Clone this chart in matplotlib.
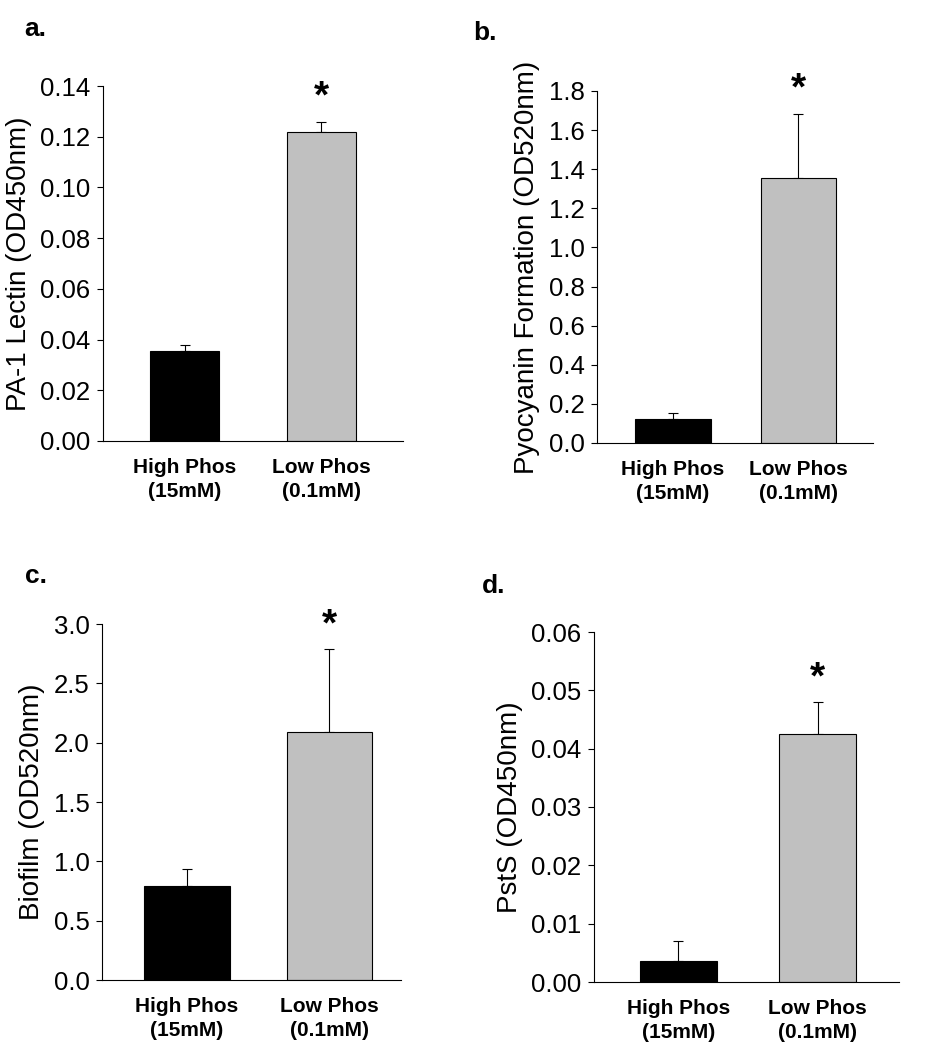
import matplotlib
matplotlib.use("Agg")
import matplotlib.pyplot as plt
from matplotlib.ticker import FormatStrFormatter

plt.rcParams['font.family'] = ['Liberation Sans', 'DejaVu Sans']

groups = ["High Phos\n(15mM)", "Low Phos\n(0.1mM)"]
bar_colors = ["#000000", "#c0c0c0"]

lectin_mean = [0.0355, 0.1217]
lectin_err = [0.0022, 0.0043]

pyo_mean = [0.122, 1.357]
pyo_err = [0.031, 0.327]

biofilm_mean = [0.79, 2.09]
biofilm_err = [0.148, 0.70]

psts_mean = [0.0036, 0.0426]
psts_err = [0.0035, 0.0054]

W, H = 925, 1046
fig = plt.figure(figsize=(W / 100, H / 100), dpi=100)


def panel(box, means, errs, ylim, step, fmt, ylabel, xlim, width, letter, letter_xy):
    l, r, t, b = box
    ax = fig.add_axes([l / W, 1 - b / H, (r - l) / W, (b - t) / H])
    x = [0, 1]
    ax.bar(x, means, width=width, color=bar_colors, edgecolor="black",
           linewidth=0.8, zorder=2)
    # error bars only go up
    ax.errorbar(x, means, yerr=[[0, 0], errs], fmt="none", ecolor="black",
                elinewidth=0.8, capsize=3.5, capthick=0.8, zorder=1)
    ax.annotate("*", xy=(1, means[1] + errs[1]), xytext=(0, 10),
                textcoords="offset points", ha="center", va="baseline",
                fontsize=28, fontweight="bold")
    ax.set_xlim(*xlim)
    ax.set_ylim(*ylim)
    n = int(round((ylim[1] - ylim[0]) / step))
    ax.set_yticks([ylim[0] + i * step for i in range(n + 1)])
    ax.yaxis.set_major_formatter(FormatStrFormatter(fmt))
    ax.set_xticks(x)
    ax.set_xticklabels(groups, fontsize=15, fontweight="bold", linespacing=1.35)
    ax.tick_params(axis="x", length=0, pad=12)
    ax.tick_params(axis="y", length=4, width=0.8, direction="out",
                   labelsize=18.5, pad=5)
    ax.spines["top"].set_visible(False)
    ax.spines["right"].set_visible(False)
    ax.spines["left"].set_linewidth(0.8)
    ax.spines["bottom"].set_linewidth(0.8)
    ax.set_ylabel(ylabel, fontsize=20, labelpad=6)
    fig.text(letter_xy[0] / W, 1 - letter_xy[1] / H, letter, fontsize=19,
             fontweight="bold", ha="left", va="baseline")
    return ax


panel((103, 403, 86, 441), lectin_mean, lectin_err, (0, 0.14), 0.02, "%.2f",
      "PA-1 Lectin (OD450nm)", (-0.597, 1.60), 0.505, "a.", (24, 36))
panel((597, 873, 91, 443), pyo_mean, pyo_err, (0, 1.8), 0.2, "%.1f",
      "Pyocyanin Formation (OD520nm)", (-0.606, 1.597), 0.60, "b.", (473, 40))
panel((102, 401, 624, 980), biofilm_mean, biofilm_err, (0, 3.0), 0.5, "%.1f",
      "Biofilm (OD520nm)", (-0.598, 1.505), 0.60, "c.", (25, 583))
panel((594, 899, 632, 982), psts_mean, psts_err, (0, 0.06), 0.01, "%.2f",
      "PstS (OD450nm)", (-0.606, 1.585), 0.55, "d.", (482, 593))

fig.savefig("out.png", dpi=100, facecolor="white")
